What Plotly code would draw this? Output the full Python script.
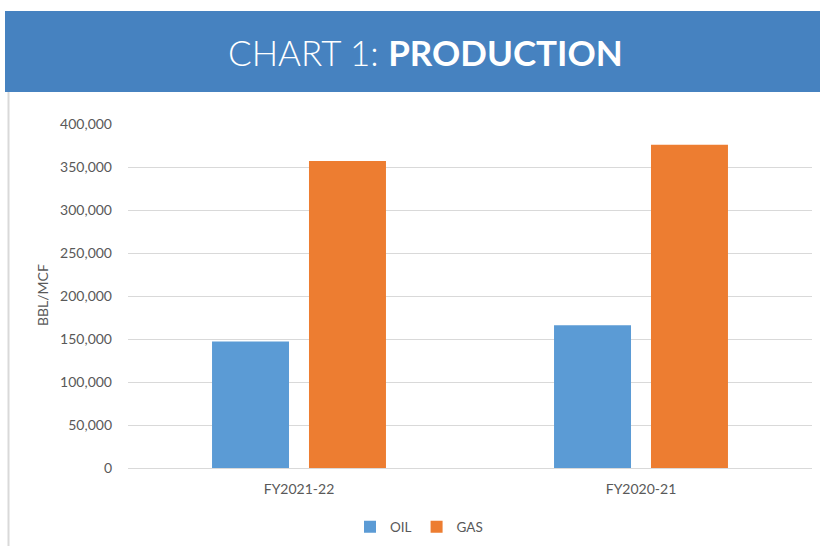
import plotly.graph_objects as go

categories = ["FY2021-22", "FY2020-21"]
oil_values = [147000, 166000]
gas_values = [357000, 376000]
series_names = ["OIL", "GAS"]
y_tickvals = [0, 50000, 100000, 150000, 200000, 250000, 300000, 350000, 400000]

W, H = 820, 546
L, R, T, B = 128, 8, 124, 78
pw, ph = W - L - R, H - T - B

def px(x):
    return (x - L) / pw

def py(y):
    return (H - B - y) / ph

fig = go.Figure()
fig.add_trace(go.Bar(x=categories, y=oil_values, name=series_names[0],
                     marker=dict(color="#5B9BD5", line=dict(width=0))))
fig.add_trace(go.Bar(x=categories, y=gas_values, name=series_names[1],
                     marker=dict(color="#ED7D31", line=dict(width=0))))

font_main = "Lato, 'Open Sans', sans-serif"

fig.update_layout(
    width=W, height=H,
    margin=dict(l=L, r=R, t=T, b=B),
    paper_bgcolor="white", plot_bgcolor="white",
    barmode="group", bargap=0.433, bargroupgap=0.206,
    font=dict(family=font_main, color="#595959", size=14),
    showlegend=True,
    legend=dict(orientation="h", x=px(419), xanchor="center",
                yref="container", y=(H - 527) / H, yanchor="middle",
                font=dict(size=13.5, color="#595959"), itemwidth=30, tracegroupgap=0,
                borderwidth=0),
    xaxis=dict(showgrid=False, showline=True, linecolor="#d9d9d9", linewidth=1,
               ticks="", tickfont=dict(size=14, color="#595959"), ticklabelstandoff=8),
    yaxis=dict(range=[0, 400000], tickvals=y_tickvals, tickformat=",",
               showgrid=True, gridcolor="#d9d9d9", gridwidth=1,
               zeroline=True, zerolinecolor="#d9d9d9", zerolinewidth=1,
               showline=False, ticks="", ticklabelstandoff=15,
               tickfont=dict(size=14, color="#595959")),
    shapes=[
        dict(type="rect", xref="paper", yref="paper",
             x0=px(5), x1=px(820), y0=py(92), y1=py(11),
             fillcolor="#4682C0", line=dict(width=0), layer="above"),
        dict(type="line", xref="paper", yref="paper",
             x0=px(8.5), x1=px(8.5), y0=py(92), y1=py(546),
             line=dict(color="#d9d9d9", width=2)),
    ],
    annotations=[
        dict(text="CHART 1: <b>PRODUCTION</b>", xref="paper", yref="paper",
             x=px(425), y=py(52), xanchor="center", yanchor="middle", showarrow=False,
             font=dict(family=font_main, size=35, color="white", weight=300)),
        dict(text="BBL/MCF", xref="paper", yref="paper", x=px(42), y=py(295),
             xanchor="center", yanchor="middle", textangle=-90, showarrow=False,
             font=dict(family=font_main, size=14, color="#595959")),
    ],
)

fig.write_html("out.html", config={"displayModeBar": False},
               post_script="document.body.style.margin='0';")
